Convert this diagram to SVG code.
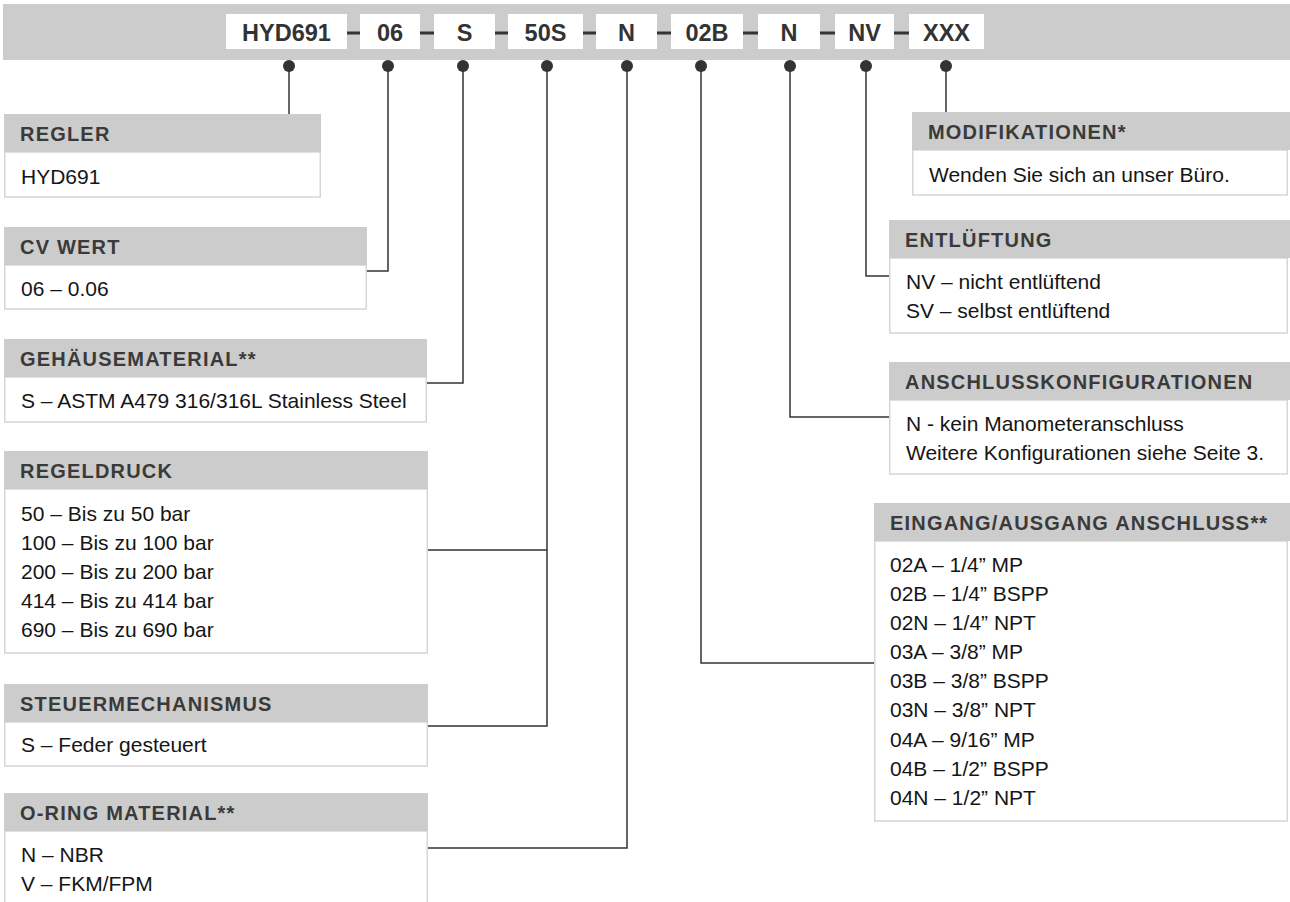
<svg xmlns="http://www.w3.org/2000/svg" width="1290" height="902" viewBox="0 0 1290 902">
<defs>
<style>
.bar{fill:#cccccc}
.cbox{fill:#ffffff}
.code{font-family:"Liberation Sans",Arial,sans-serif;font-weight:bold;font-size:23.5px;fill:#333333;text-anchor:middle}
.dash{stroke:#333333;stroke-width:3}
.dot{fill:#333333}
.conn{fill:none;stroke:#333333;stroke-width:1.5}
.hdr{fill:#cccccc}
.body{fill:#ffffff;stroke:#d6d6d6;stroke-width:1.5}
.ht{font-family:"Liberation Sans",Arial,sans-serif;font-weight:bold;font-size:20px;letter-spacing:1.2px;fill:#3a3a3a}
.bt{font-family:"Liberation Sans",Arial,sans-serif;font-size:21px;fill:#151515}
</style>
</defs>
<rect width="1290" height="902" fill="#ffffff"/>

<g id="codebar">
<rect class="bar" x="3" y="4" width="1287" height="56"/>
<line class="dash" x1="347" y1="33" x2="360" y2="33"/>
<line class="dash" x1="420" y1="33" x2="434" y2="33"/>
<line class="dash" x1="495" y1="33" x2="508" y2="33"/>
<line class="dash" x1="583" y1="33" x2="596" y2="33"/>
<line class="dash" x1="657" y1="33" x2="671" y2="33"/>
<line class="dash" x1="743" y1="33" x2="758" y2="33"/>
<line class="dash" x1="820" y1="33" x2="835" y2="33"/>
<line class="dash" x1="894" y1="33" x2="909" y2="33"/>
<rect class="cbox" x="226" y="14" width="121" height="35"/>
<rect class="cbox" x="360" y="14" width="60" height="35"/>
<rect class="cbox" x="434" y="14" width="61" height="35"/>
<rect class="cbox" x="508" y="14" width="75" height="35"/>
<rect class="cbox" x="596" y="14" width="61" height="35"/>
<rect class="cbox" x="671" y="14" width="72" height="35"/>
<rect class="cbox" x="758" y="14" width="62" height="35"/>
<rect class="cbox" x="835" y="14" width="59" height="35"/>
<rect class="cbox" x="909" y="14" width="75" height="35"/>
<text class="code" x="286.5" y="41">HYD691</text>
<text class="code" x="390" y="41">06</text>
<text class="code" x="464.5" y="41">S</text>
<text class="code" x="545.5" y="41">50S</text>
<text class="code" x="626.5" y="41">N</text>
<text class="code" x="707" y="41">02B</text>
<text class="code" x="789" y="41">N</text>
<text class="code" x="864.5" y="41">NV</text>
<text class="code" x="946.5" y="41">XXX</text>
</g>

<g id="connectors">
<path class="conn" d="M289 66 V114"/>
<path class="conn" d="M388 66 V271 H367"/>
<path class="conn" d="M463 66 V383 H427"/>
<path class="conn" d="M547 66 V726 H428 M547 550 H428"/>
<path class="conn" d="M627 66 V848 H428"/>
<path class="conn" d="M701 66 V663 H874"/>
<path class="conn" d="M790 66 V417 H889"/>
<path class="conn" d="M866 66 V276 H889"/>
<path class="conn" d="M946 66 V112"/>
<circle class="dot" cx="289" cy="66" r="6"/>
<circle class="dot" cx="388" cy="66" r="6"/>
<circle class="dot" cx="463" cy="66" r="6"/>
<circle class="dot" cx="547" cy="66" r="6"/>
<circle class="dot" cx="627" cy="66" r="6"/>
<circle class="dot" cx="701" cy="66" r="6"/>
<circle class="dot" cx="790" cy="66" r="6"/>
<circle class="dot" cx="866" cy="66" r="6"/>
<circle class="dot" cx="946" cy="66" r="6"/>
</g>

<g id="regler">
<rect class="body" x="4.75" y="152" width="315.5" height="45"/>
<rect class="hdr" x="4" y="114" width="317" height="38"/>
<text class="ht" x="20" y="141">REGLER</text>
<text class="bt" x="21" y="184">HYD691</text>
</g>

<g id="cvwert">
<rect class="body" x="4.75" y="265" width="361.5" height="44"/>
<rect class="hdr" x="4" y="227" width="363" height="38"/>
<text class="ht" x="20" y="254">CV WERT</text>
<text class="bt" x="21" y="296">06 – 0.06</text>
</g>

<g id="gehaeuse">
<rect class="body" x="4.75" y="377" width="421.5" height="45"/>
<rect class="hdr" x="4" y="339" width="423" height="38"/>
<text class="ht" x="20" y="366">GEHÄUSEMATERIAL**</text>
<text class="bt" x="21" y="408">S – ASTM A479 316/316L Stainless Steel</text>
</g>

<g id="regeldruck">
<rect class="body" x="4.75" y="489" width="422.5" height="164"/>
<rect class="hdr" x="4" y="451" width="424" height="38"/>
<text class="ht" x="20" y="478">REGELDRUCK</text>
<text class="bt" x="21" y="521">50 – Bis zu 50 bar</text>
<text class="bt" x="21" y="550">100 – Bis zu 100 bar</text>
<text class="bt" x="21" y="579">200 – Bis zu 200 bar</text>
<text class="bt" x="21" y="608">414 – Bis zu 414 bar</text>
<text class="bt" x="21" y="637">690 – Bis zu 690 bar</text>
</g>

<g id="steuermechanismus">
<rect class="body" x="4.75" y="722" width="422.5" height="44"/>
<rect class="hdr" x="4" y="684" width="424" height="38"/>
<text class="ht" x="20" y="711">STEUERMECHANISMUS</text>
<text class="bt" x="21" y="752">S – Feder gesteuert</text>
</g>

<g id="oring">
<rect class="body" x="4.75" y="831" width="422.5" height="90"/>
<rect class="hdr" x="4" y="793" width="424" height="38"/>
<text class="ht" x="20" y="820">O-RING MATERIAL**</text>
<text class="bt" x="21" y="862">N – NBR</text>
<text class="bt" x="21" y="891">V – FKM/FPM</text>
</g>

<g id="modifikationen">
<rect class="body" x="912.75" y="150" width="374.5" height="45"/>
<rect class="hdr" x="912" y="112" width="378" height="38"/>
<text class="ht" x="928" y="139">MODIFIKATIONEN*</text>
<text class="bt" x="929" y="182">Wenden Sie sich an unser Büro.</text>
</g>

<g id="entlueftung">
<rect class="body" x="889.75" y="258" width="397.5" height="75"/>
<rect class="hdr" x="889" y="220" width="401" height="38"/>
<text class="ht" x="905" y="247">ENTLÜFTUNG</text>
<text class="bt" x="906" y="289">NV – nicht entlüftend</text>
<text class="bt" x="906" y="318">SV – selbst entlüftend</text>
</g>

<g id="anschlusskonfigurationen">
<rect class="body" x="889.75" y="400" width="397.5" height="74"/>
<rect class="hdr" x="889" y="362" width="401" height="38"/>
<text class="ht" x="905" y="389">ANSCHLUSSKONFIGURATIONEN</text>
<text class="bt" x="906" y="431">N - kein Manometeranschluss</text>
<text class="bt" x="906" y="460">Weitere Konfigurationen siehe Seite 3.</text>
</g>

<g id="eingang">
<rect class="body" x="874.75" y="541" width="412.5" height="280"/>
<rect class="hdr" x="874" y="503" width="416" height="38"/>
<text class="ht" x="890" y="530">EINGANG/AUSGANG ANSCHLUSS**</text>
<text class="bt" x="890" y="572">02A – 1/4” MP</text>
<text class="bt" x="890" y="601">02B – 1/4” BSPP</text>
<text class="bt" x="890" y="630">02N – 1/4” NPT</text>
<text class="bt" x="890" y="659">03A – 3/8” MP</text>
<text class="bt" x="890" y="688">03B – 3/8” BSPP</text>
<text class="bt" x="890" y="717">03N – 3/8” NPT</text>
<text class="bt" x="890" y="747">04A – 9/16” MP</text>
<text class="bt" x="890" y="776">04B – 1/2” BSPP</text>
<text class="bt" x="890" y="805">04N – 1/2” NPT</text>
</g>
</svg>
